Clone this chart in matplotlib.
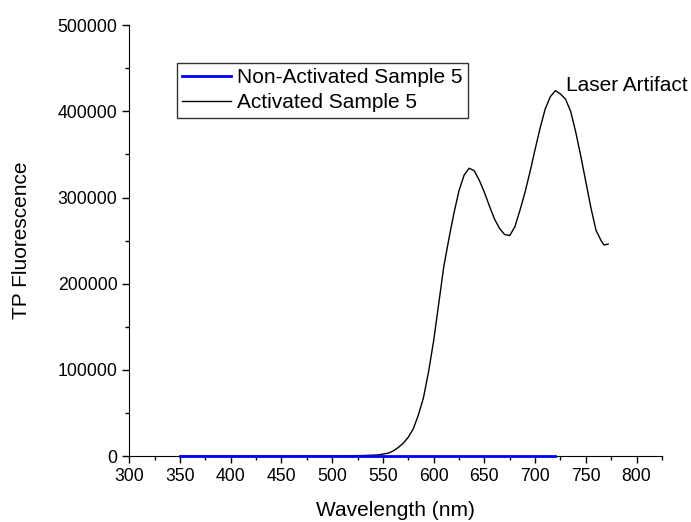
import numpy as np
import matplotlib
matplotlib.use("Agg")
import matplotlib.pyplot as plt
from matplotlib.ticker import MultipleLocator, ScalarFormatter

plt.rcParams['font.family'] = ['Liberation Sans', 'DejaVu Sans']

# Non-activated sample: flat at zero
wl_non = [350, 400, 450, 500, 550, 600, 650, 700, 720]
tp_non = [0, 0, 0, 0, 0, 0, 0, 0, 0]

# Activated sample
wl_act = [350, 400, 450, 500, 530, 545, 550, 555, 560, 565, 570, 575, 580, 585, 590,
          595, 600, 605, 610, 615, 620, 625, 630, 635, 640, 645, 650, 655,
          660, 665, 670, 675, 680, 685, 690, 695, 700, 705, 710, 715, 720,
          725, 730, 735, 740, 745, 750, 755, 760, 765, 768, 772]
tp_act = [0, 0, 0, 300, 800, 1500, 2500, 3500, 6000, 10000, 15000, 22000, 32000, 48000, 68000,
          98000, 134000, 177000, 220000, 252000, 282000, 308000, 326000, 334000, 331000, 320000, 306000, 290000,
          275000, 264000, 257000, 256000, 266000, 285000, 306000, 330000, 356000, 381000, 403000, 417000, 424000,
          420000, 414000, 400000, 376000, 348000, 318000, 288000, 262000, 250000, 245000, 246000]

fig = plt.figure(figsize=(6.91, 5.22), dpi=100)
ax = fig.add_axes([0.187, 0.126, 0.771, 0.826])

ax.plot(wl_act, tp_act, color='black', lw=1.0, label='Activated Sample 5', zorder=3)
ax.plot(wl_non, tp_non, color='#0000ff', lw=2.0, label='Non-Activated Sample 5', zorder=5, clip_on=False)

ax.set_xlim(300, 825)
ax.set_ylim(0, 500000)
ax.spines['top'].set_visible(False)
ax.spines['right'].set_visible(False)
ax.xaxis.set_major_locator(MultipleLocator(50))
ax.xaxis.set_minor_locator(MultipleLocator(25))
ax.yaxis.set_major_locator(MultipleLocator(100000))
ax.yaxis.set_minor_locator(MultipleLocator(50000))
fmt = ScalarFormatter(useOffset=False)
fmt.set_scientific(False)
ax.yaxis.set_major_formatter(fmt)
ax.tick_params(which='major', direction='out', length=5, width=1, labelsize=12.7, colors='black')
ax.tick_params(which='minor', direction='out', length=3, width=1)

ax.set_xlabel('Wavelength (nm)', fontsize=15)
ax.set_ylabel('TP Fluorescence', fontsize=15)
ax.xaxis.set_label_coords(0.5, -0.104)
ax.yaxis.set_label_coords(-0.184, 0.5)

ax.text(730, 430000, 'Laser Artifact', fontsize=15, ha='left', va='center')

handles, labels = ax.get_legend_handles_labels()
leg = ax.legend(handles[::-1], labels[::-1], loc='upper left', bbox_to_anchor=(177 / 691, 1 - 63 / 522),
                bbox_transform=fig.transFigure, fontsize=15, frameon=True, fancybox=False,
                edgecolor='black', handlelength=2.35, handletextpad=0.3, borderpad=0.25,
                labelspacing=0.3, borderaxespad=0)
leg.get_frame().set_linewidth(1.0)

fig.savefig('out.png', dpi=100)
